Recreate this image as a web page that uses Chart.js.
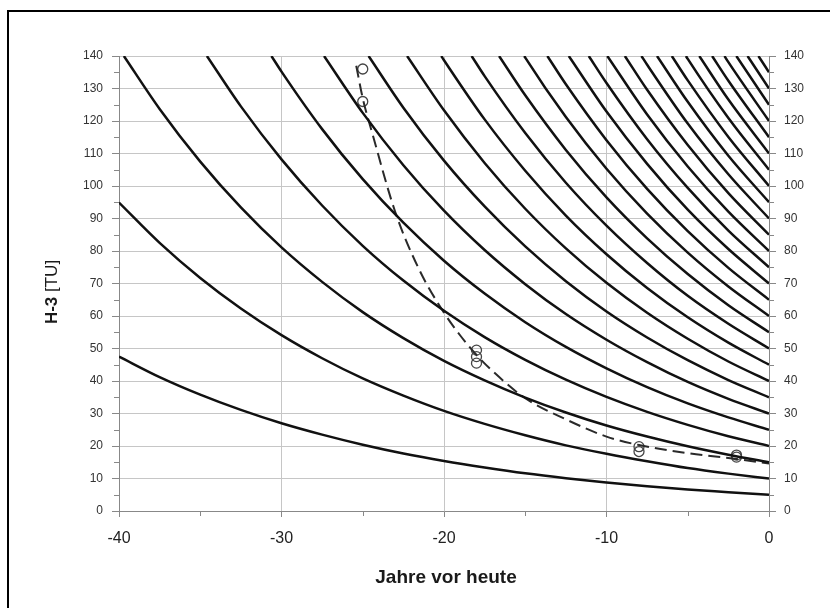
<!DOCTYPE html>
<html>
<head>
<meta charset="utf-8">
<script src="https://cdn.jsdelivr.net/npm/chart.js@4.4.1/dist/chart.umd.min.js"></script>
<style>
  html, body { margin: 0; padding: 0; background: #fff; }
  #wrap { position: relative; width: 830px; height: 608px; overflow: hidden; }
  #frame { position: absolute; left: 7px; top: 10px; width: 900px; height: 700px;
           border-left: 2px solid #000; border-top: 2px solid #000; pointer-events: none; }
  canvas { position: absolute; left: 0; top: 0; }
</style>
</head>
<body>
<div id="wrap">
  <canvas id="c" width="830" height="608"></canvas>
  <div id="frame"></div>
</div>
<script>
// ---- Data ----
// Years before today at which each decay curve was read (0 back to -40, every 2.5 years)
const yearsBack = [0, -2.5, -5, -7.5, -10, -12.5, -15, -17.5, -20, -22.5, -25, -27.5, -30, -32.5, -35, -37.5, -40];

// H-3 values [TU] of each black decay curve at those years (until it leaves the top at 140)
const curve005 = [5.0, 5.8, 6.6, 7.6, 8.8, 10.1, 11.6, 13.4, 15.4, 17.7, 20.4, 23.5, 27.0, 31.1, 35.8, 41.2, 47.5];
const curve010 = [10.0, 11.5, 13.2, 15.3, 17.6, 20.2, 23.3, 26.8, 30.8, 35.5, 40.8, 47.0, 54.1, 62.3, 71.7, 82.5, 94.9];
const curve015 = [15.0, 17.3, 19.9, 22.9, 26.3, 30.3, 34.9, 40.2, 46.2, 53.2, 61.2, 70.5, 81.1, 93.4, 107.5, 123.7];
const curve020 = [20.0, 23.0, 26.5, 30.5, 35.1, 40.4, 46.5, 53.5, 61.6, 70.9, 81.6, 94.0, 108.2, 124.5];
const curve025 = [25.0, 28.8, 33.1, 38.1, 43.9, 50.5, 58.1, 66.9, 77.0, 88.7, 102.1, 117.5, 135.2];
const curve030 = [30.0, 34.5, 39.7, 45.8, 52.7, 60.6, 69.8, 80.3, 92.4, 106.4, 122.5];
const curve035 = [35.0, 40.3, 46.4, 53.4, 61.4, 70.7, 81.4, 93.7, 107.8, 124.1];
const curve040 = [40.0, 46.0, 53.0, 61.0, 70.2, 80.8, 93.0, 107.1, 123.3];
const curve045 = [45.0, 51.8, 59.6, 68.6, 79.0, 90.9, 104.7, 120.5, 138.7];
const curve050 = [50.0, 57.6, 66.2, 76.3, 87.8, 101.0, 116.3, 133.8];
const curve055 = [55.0, 63.3, 72.9, 83.9, 96.5, 111.1, 127.9];
const curve060 = [60.0, 69.1, 79.5, 91.5, 105.3, 121.2, 139.5];
const curve065 = [65.0, 74.8, 86.1, 99.1, 114.1, 131.3];
const curve070 = [70.0, 80.6, 92.7, 106.8, 122.9];
const curve075 = [75.0, 86.3, 99.4, 114.4, 131.7];
const curve080 = [80.0, 92.1, 106.0, 122.0];
const curve085 = [85.0, 97.8, 112.6, 129.6];
const curve090 = [90.0, 103.6, 119.2, 137.3];
const curve095 = [95.0, 109.3, 125.9];
const curve100 = [100.0, 115.1, 132.5];
const curve105 = [105.0, 120.9, 139.1];
const curve110 = [110.0, 126.6];
const curve115 = [115.0, 132.4];
const curve120 = [120.0, 138.1];
const curve125 = [125.0];
const curve130 = [130.0];
const curve135 = [135.0];

const curves = [curve005, curve010, curve015, curve020, curve025, curve030, curve035, curve040, curve045,
                curve050, curve055, curve060, curve065, curve070, curve075, curve080, curve085, curve090,
                curve095, curve100, curve105, curve110, curve115, curve120, curve125, curve130, curve135];

// Year at which each curve meets the top edge (140 TU); null = stays below 140
const topCross = [null, null, -39.70, -34.59, -30.62, -27.38, -24.64, -22.27, -20.17,
                  -18.30, -16.61, -15.06, -13.64, -12.32, -11.09, -9.95, -8.87, -7.85,
                  -6.89, -5.98, -5.11, -4.29, -3.50, -2.74, -2.01, -1.32, -0.65];
const topValue = 140;

// Measured samples (open circles)
const measYears = [-25, -25, -18, -18, -18, -8, -8, -2, -2];
const measTU    = [136, 126, 49.5, 47.5, 45.5, 19.8, 18.3, 17.2, 16.6];

// Dashed fitted line
const fitYears = [-25.4, -25, -24.4, -23, -21.5, -20, -19, -18, -17, -15, -12.5, -10, -8, -5, -2, 0];
const fitTU    = [137, 127, 116, 92, 74, 61, 54, 48, 43, 34.7, 28.2, 22.9, 20.3, 17.8, 16.0, 14.6];

// Axis ticks
const xTicks = [-40, -30, -20, -10, 0];
const yTicks = [0, 10, 20, 30, 40, 50, 60, 70, 80, 90, 100, 110, 120, 130, 140];

// ---- Build datasets ----
const FONT = '"Liberation Sans", Arial, Helvetica, sans-serif';
const datasets = [];
curves.forEach((vals, i) => {
  const pts = vals.map((v, j) => ({ x: yearsBack[j], y: v }));
  if (topCross[i] !== null) pts.push({ x: topCross[i], y: topValue });
  pts.sort((a, b) => a.x - b.x);
  datasets.push({
    data: pts, showLine: true, borderColor: '#111', borderWidth: 2.5,
    pointRadius: 0, cubicInterpolationMode: 'monotone', fill: false, yAxisID: 'y'
  });
});
datasets.push({
  data: fitYears.map((x, i) => ({ x, y: fitTU[i] })),
  showLine: true, borderColor: '#2a2a2a', borderWidth: 2, borderDash: [12, 6],
  pointRadius: 0, cubicInterpolationMode: 'monotone', fill: false, yAxisID: 'y'
});
datasets.push({
  data: measYears.map((x, i) => ({ x, y: measTU[i] })),
  showLine: false, pointStyle: 'circle', pointRadius: 5, pointBorderWidth: 1.3,
  pointBorderColor: '#444', pointBackgroundColor: 'rgba(0,0,0,0)', yAxisID: 'y'
});

const extras = {
  id: 'extras',
  afterDraw(chart) {
    const ctx = chart.ctx;
    const xs = chart.scales.x, ys = chart.scales.y;
    const L = chart.chartArea.left, R = chart.chartArea.right, B = chart.chartArea.bottom;
    ctx.save();
    ctx.strokeStyle = '#888';
    ctx.lineWidth = 1;
    ctx.beginPath();
    for (let v = 5; v < 140; v += 10) {
      const py = Math.round(ys.getPixelForValue(v)) + 0.5;
      ctx.moveTo(L - 5, py); ctx.lineTo(L, py);
      ctx.moveTo(R, py); ctx.lineTo(R + 5, py);
    }
    for (let v = -35; v < 0; v += 10) {
      const px = Math.round(xs.getPixelForValue(v)) + 0.5;
      ctx.moveTo(px, B); ctx.lineTo(px, B + 5);
    }
    ctx.stroke();
    // axis titles
    ctx.fillStyle = '#1a1a1a';
    ctx.textBaseline = 'middle';
    ctx.textAlign = 'center';
    ctx.font = 'bold 19px ' + FONT;
    ctx.fillText('Jahre vor heute', (L + R) / 2 + 2, 578);
    ctx.translate(52, 292);
    ctx.rotate(-Math.PI / 2);
    ctx.font = 'bold 17px ' + FONT;
    const p1 = 'H-3 ';
    const w1 = ctx.measureText(p1).width;
    ctx.font = '17px ' + FONT;
    const p2 = '[TU]';
    const w2 = ctx.measureText(p2).width;
    const start = -(w1 + w2) / 2;
    ctx.textAlign = 'left';
    ctx.font = 'bold 17px ' + FONT;
    ctx.fillText(p1, start, 0);
    ctx.font = '17px ' + FONT;
    ctx.fillText(p2, start + w1, 0);
    ctx.restore();
  }
};

const yScale = (pos) => ({
  type: 'linear', position: pos, min: 0, max: 140,
  afterBuildTicks: (s) => { s.ticks = yTicks.map(v => ({ value: v })); },
  ticks: { font: { family: FONT, size: 12 }, color: '#333', padding: pos === 'left' ? 9 : 8 },
  grid: { color: '#c6c6c6', lineWidth: 1, tickLength: 7, tickColor: '#888', drawOnChartArea: pos === 'left' },
  border: { color: '#888', width: 1 },
  afterFit: (s) => { s.width = pos === 'left' ? 119 : 61; }
});

new Chart(document.getElementById('c'), {
  type: 'scatter',
  data: { datasets },
  options: {
    responsive: false, animation: false, devicePixelRatio: 1,
    layout: { padding: { top: 56, left: 0, right: 0, bottom: 0 } },
    plugins: { legend: { display: false }, tooltip: { enabled: false }, title: { display: false } },
    elements: { line: { tension: 0 } },
    scales: {
      x: {
        type: 'linear', min: -40, max: 0,
        afterBuildTicks: (s) => { s.ticks = xTicks.map(v => ({ value: v })); },
        ticks: { font: { family: FONT, size: 16 }, color: '#222', padding: 12, maxRotation: 0 },
        grid: { color: '#c6c6c6', lineWidth: 1, tickLength: 6, tickColor: '#888' },
        border: { color: '#888', width: 1 },
        afterFit: (s) => { s.height = 97; }
      },
      y: yScale('left'),
      y2: yScale('right')
    }
  },
  plugins: [extras]
});
</script>
</body>
</html>
